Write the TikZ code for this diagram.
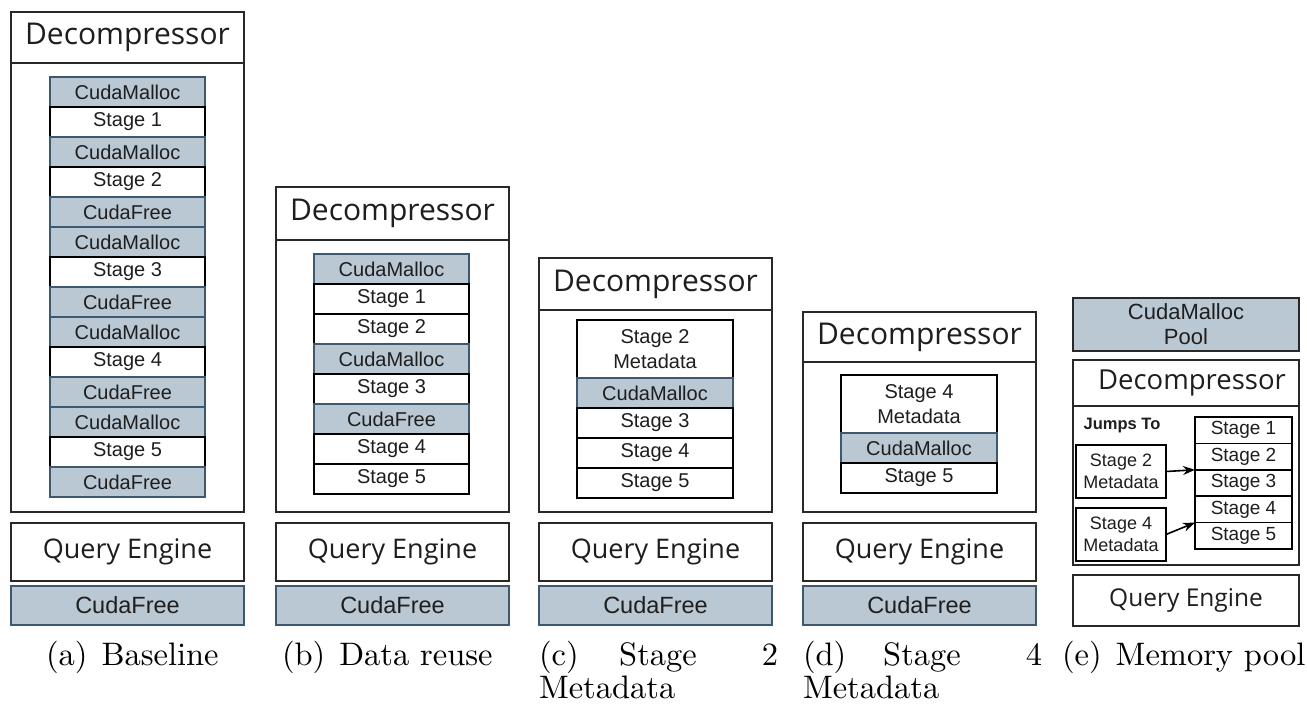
\documentclass[tikz,border=0pt]{standalone}
\usepackage{fontspec}
\newfontfamily\titlefont{Open Sans}
\newfontfamily\labelfont{Liberation Sans}
% captions use the 10pt design of Latin Modern, scaled up
\newfontfamily\capfont{lmroman10-regular.otf}
\usetikzlibrary{arrows.meta}

\definecolor{rowgray}{RGB}{186,200,212}
\definecolor{rowedge}{RGB}{62,88,112}
\definecolor{boxedge}{RGB}{40,40,40}
\definecolor{inktext}{RGB}{30,30,30}

% stack geometry, set before each stack is built
\def\rowW{155}
\def\rowH{30}
\def\rowfs{20}

\tikzset{
  every node/.style={outer sep=0pt, inner sep=0pt},
  panel/.style={draw=boxedge, line width=2pt, fill=white, anchor=north west, text=inktext},
  head/.style={panel, anchor=north, font=\titlefont\fontsize{30}{34}\selectfont},
  qebox/.style={panel, font=\titlefont\fontsize{27}{30}\selectfont},
  freebar/.style={panel, draw=rowedge, fill=rowgray, line width=1.8pt,
    font=\labelfont\fontsize{23.5}{26}\selectfont},
  grayrow/.style={draw=rowedge, fill=rowgray, line width=1.6pt, anchor=north,
    minimum width=\rowW, minimum height=\rowH, text=inktext,
    font=\labelfont\fontsize{\rowfs}{\rowfs}\selectfont},
  whiterow/.style={grayrow, draw=black, fill=white},
  tallrow/.style={whiterow, minimum height=58, align=center,
    font=\labelfont\fontsize{20}{25}\selectfont},
  metabox/.style={draw=black, fill=white, line width=1.8pt, anchor=north west,
    minimum width=90, minimum height=53, align=center, text=inktext,
    font=\labelfont\fontsize{18}{22}\selectfont},
  jump/.style={line width=1.6pt, -{Stealth[length=12pt,width=9pt]}},
  captext/.style={font=\capfont\fontsize{32.5}{39}\selectfont, text=black},
}

% build a column of rows, each hanging below the previous one
\newcommand\buildstack[3]{%
  \foreach [count=\i] \t/\s in {#3}{%
    \ifnum\i=1
      \node[\s] (#1\i) at (#2) {\t};%
    \else
      \pgfmathtruncatemacro\stackprev{\i-1}%
      \node[\s] (#1\i) at (#1\stackprev.south) {\t};%
    \fi
  }}

\begin{document}
\begin{tikzpicture}[x=1pt, y=-1pt]
\fill[white] (0,0) rectangle (1307,704);
\useasboundingbox (0,0) rectangle (1307,704);

% ---------- (a) baseline ----------
\node[panel, minimum width=233, minimum height=500] (aD) at (11,12) {};
\node[head, minimum width=233, minimum height=51] (aH) at (aD.north) {Decompressor};
\def\rowW{155}\def\rowH{30}\def\rowfs{20}
\buildstack{a}{127.5,77}{CudaMalloc/grayrow, Stage 1/whiterow, CudaMalloc/grayrow,
  Stage 2/whiterow, CudaFree/grayrow, CudaMalloc/grayrow, Stage 3/whiterow,
  CudaFree/grayrow, CudaMalloc/grayrow, Stage 4/whiterow, CudaFree/grayrow,
  CudaMalloc/grayrow, Stage 5/whiterow, CudaFree/grayrow}
\node[qebox, minimum width=233, minimum height=58] (aQ) at (11,523) {Query Engine};
\node[freebar, minimum width=233, minimum height=39] (aF) at (11,586) {CudaFree};

% ---------- (b) data reuse ----------
\node[panel, minimum width=233, minimum height=325] (bD) at (276,187) {};
\node[head, minimum width=233, minimum height=53] (bH) at (bD.north) {Decompressor};
\buildstack{b}{391.5,254}{CudaMalloc/grayrow, Stage 1/whiterow, Stage 2/whiterow,
  CudaMalloc/grayrow, Stage 3/whiterow, CudaFree/grayrow, Stage 4/whiterow,
  Stage 5/whiterow}
\node[qebox, minimum width=233, minimum height=58] (bQ) at (276,523) {Query Engine};
\node[freebar, minimum width=233, minimum height=39] (bF) at (276,586) {CudaFree};

% ---------- (c) stage 2 metadata ----------
\node[panel, minimum width=233, minimum height=254] (cD) at (539,258) {};
\node[head, minimum width=233, minimum height=52] (cH) at (cD.north) {Decompressor};
\def\rowW{156}
\buildstack{c}{655,320}{Stage 2\\Metadata/tallrow, CudaMalloc/grayrow,
  Stage 3/whiterow, Stage 4/whiterow, Stage 5/whiterow}
\node[qebox, minimum width=233, minimum height=58] (cQ) at (539,523) {Query Engine};
\node[freebar, minimum width=233, minimum height=39] (cF) at (539,586) {CudaFree};

% ---------- (d) stage 4 metadata ----------
\node[panel, minimum width=233, minimum height=200] (dD) at (803,312) {};
\node[head, minimum width=233, minimum height=50] (dH) at (dD.north) {Decompressor};
\buildstack{d}{919,375}{Stage 4\\Metadata/tallrow, CudaMalloc/grayrow, Stage 5/whiterow}
\node[qebox, minimum width=233, minimum height=58] (dQ) at (803,523) {Query Engine};
\node[freebar, minimum width=233, minimum height=39] (dF) at (803,586) {CudaFree};

% ---------- (e) memory pool ----------
\node[panel, fill=rowgray, minimum width=226, minimum height=53, align=center,
  font=\labelfont\fontsize{22}{25}\selectfont] (eP) at (1073,298) {CudaMalloc\\Pool};
\node[panel, minimum width=226, minimum height=205] (eD) at (1073,360) {};
\node[head, minimum width=226, minimum height=46,
  font=\titlefont\fontsize{27.5}{32}\selectfont] (eH) at (eD.north) {\hspace{12pt}Decompressor};
\node[font=\labelfont\bfseries\fontsize{16.5}{18}\selectfont, text=inktext] (eJ) at (1122,426) {Jumps To};
\def\rowW{97}\def\rowH{26.4}\def\rowfs{19}
\buildstack{eS}{1243.5,417}{Stage 1/whiterow, Stage 2/whiterow, Stage 3/whiterow,
  Stage 4/whiterow, Stage 5/whiterow}
\node[metabox] (eM2) at (1076,445) {Stage 2\\Metadata};
\node[metabox] (eM4) at (1076,508) {Stage 4\\Metadata};
\draw[jump] (eM2.east) -- (eS2.south west);
\draw[jump] (eM4.east) -- (eS4.south west);
\node[qebox, minimum width=226, minimum height=51,
  font=\titlefont\fontsize{24.5}{28}\selectfont] (eQ) at (1073,575) {Query Engine};

% ---------- captions ----------
\node[captext, anchor=base west] (capA) at (46,665) {(a)\hspace{14pt}Baseline};
\node[captext, anchor=base west] (capB) at (282,665) {(b)\hspace{14pt}Data reuse};
\node[captext, anchor=base west] (capC1) at (539,665) {(c)};
\node[captext, anchor=base] (capC2) at (658,665) {Stage};
\node[captext, anchor=base east] (capC3) at (778,665) {2};
\node[captext, anchor=base west] (capC4) at (539,698) {Metadata};
\node[captext, anchor=base west] (capD1) at (803,665) {(d)};
\node[captext, anchor=base] (capD2) at (922,665) {Stage};
\node[captext, anchor=base east] (capD3) at (1042,665) {4};
\node[captext, anchor=base west] (capD4) at (803,698) {Metadata};
\node[captext, anchor=base west] (capE) at (1062,665) {(e)\hspace{14pt}Memory pool};
\end{tikzpicture}
\end{document}
